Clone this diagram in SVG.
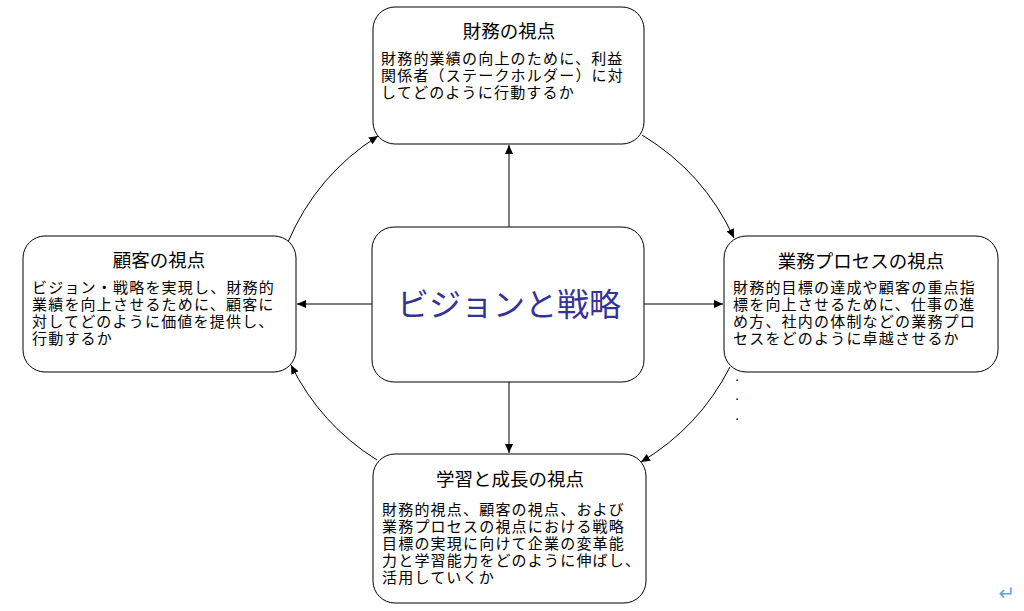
<svg xmlns="http://www.w3.org/2000/svg" width="1024" height="611" viewBox="0 0 1024 611">
<defs>
<marker id="arr" markerWidth="10" markerHeight="8" refX="9" refY="4" orient="auto" markerUnits="userSpaceOnUse">
<path d="M0,0 L9,4 L0,8 Z" fill="#000"/>
</marker>
<style>
.box{fill:#fff;stroke:#000;stroke-width:1}
.conn{fill:none;stroke:#000;stroke-width:1;marker-end:url(#arr)}
.t{font-family:"Liberation Sans","Noto Sans CJK JP",sans-serif;font-size:15px;letter-spacing:1.2px;fill:#000}
.h{font-family:"Liberation Sans","Noto Sans CJK JP",sans-serif;font-size:18.5px;fill:#000;text-anchor:middle}
.c{font-family:"Liberation Sans","Noto Sans CJK JP",sans-serif;font-size:32px;fill:#333399;text-anchor:middle}
.d{font-family:"Liberation Sans",sans-serif;font-size:15px;fill:#000}
</style>
</defs>
<rect width="1024" height="611" fill="#fff"/>
<g id="connectors">
<path class="conn" d="M509,227 L509,145"/>
<path class="conn" d="M372,304 L297,304"/>
<path class="conn" d="M644,304 L723,304"/>
<path class="conn" d="M509,382 L509,453"/>
<path class="conn" d="M288,242 A235,235 0 0 1 378,136"/>
<path class="conn" d="M642,135 A235,235 0 0 1 734,238"/>
<path class="conn" d="M730,367 A235,235 0 0 1 641,462"/>
<path class="conn" d="M377,460 A235,235 0 0 1 291,365"/>
</g>
<g id="center">
<rect class="box" x="372" y="227" width="272" height="155" rx="22"/>
<text class="c" x="509" y="316">ビジョンと戦略</text>
</g>
<g id="finance">
<rect class="box" x="373" y="7" width="271" height="137" rx="22"/>
<text class="h" x="509" y="38">財務の視点</text>
<text class="t" x="381" y="64">財務的業績の向上のために、利益</text>
<text class="t" x="381" y="81">関係者（ステークホルダー）に対</text>
<text class="t" x="381" y="98">してどのように行動するか</text>
</g>
<g id="customer">
<rect class="box" x="23" y="236" width="273" height="136" rx="22"/>
<text class="h" x="159" y="267">顧客の視点</text>
<text class="t" x="32" y="293">ビジョン・戦略を実現し、財務的</text>
<text class="t" x="32" y="310">業績を向上させるために、顧客に</text>
<text class="t" x="32" y="327">対してどのように価値を提供し、</text>
<text class="t" x="32" y="344">行動するか</text>
</g>
<g id="process">
<rect class="box" x="724" y="236" width="274" height="136" rx="22"/>
<text class="h" x="861" y="268">業務プロセスの視点</text>
<text class="t" x="733" y="293">財務的目標の達成や顧客の重点指</text>
<text class="t" x="733" y="310">標を向上させるために、仕事の進</text>
<text class="t" x="733" y="327">め方、社内の体制などの業務プロ</text>
<text class="t" x="733" y="344">セスをどのように卓越させるか</text>
<text class="d" x="735" y="381">.</text>
<text class="d" x="735" y="400">.</text>
<text class="d" x="735" y="420">.</text>
</g>
<g id="learning">
<rect class="box" x="373" y="454" width="273" height="149" rx="22"/>
<text class="h" x="510" y="486">学習と成長の視点</text>
<text class="t" x="382" y="515">財務的視点、顧客の視点、および</text>
<text class="t" x="382" y="532">業務プロセスの視点における戦略</text>
<text class="t" x="382" y="549">目標の実現に向けて企業の変革能</text>
<text class="t" x="382" y="566">力と学習能力をどのように伸ばし、</text>
<text class="t" x="382" y="583">活用していくか</text>
</g>
<text x="1007" y="600" font-family="DejaVu Sans,sans-serif" font-size="20" fill="#5aa9f0" text-anchor="middle">↵</text>
</svg>
